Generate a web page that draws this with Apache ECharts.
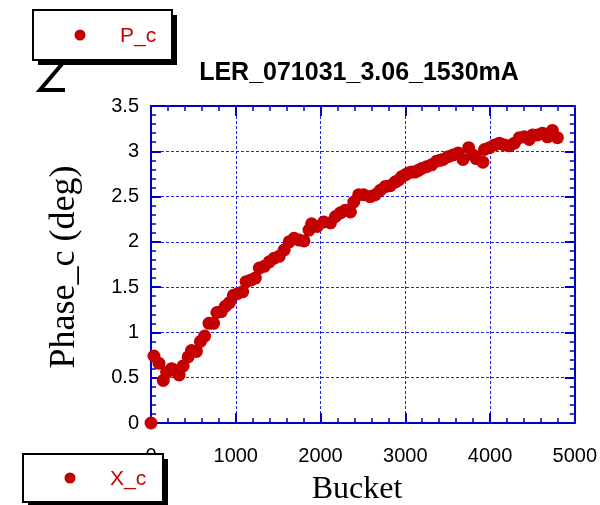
<!DOCTYPE html>
<html>
<head>
<meta charset="utf-8">
<script src="https://cdn.jsdelivr.net/npm/echarts@6/dist/echarts.min.js"></script>
<style>
  html, body { margin: 0; padding: 0; background: #ffffff; }
  #chart { width: 600px; height: 505px; }
</style>
</head>
<body>
<div id="chart"></div>
<script>
// Phase of the bunch (deg) along the train, LER run 071031
const chartTitle = 'LER_071031_3.06_1530mA';
const xName = 'Bucket';
const yName = 'Phase_c (deg)';
const seriesNames = ['P_c', 'X_c'];

const buckets = [
  0, 35, 94, 145, 184, 243, 281, 332, 379, 438, 477, 536, 583, 633, 684, 738,
  778, 829, 879, 926, 973, 1023, 1082, 1122, 1180, 1231, 1278, 1336, 1395, 1454,
  1512, 1571, 1630, 1688, 1747, 1805, 1864, 1895, 1961, 2040, 2118, 2177, 2235,
  2294, 2353, 2392, 2450, 2509, 2587, 2646, 2705, 2763, 2822, 2880, 2920, 2958,
  3000, 3036, 3075, 3115, 3155, 3193, 3251, 3310, 3368, 3410, 3447, 3505, 3564,
  3623, 3681, 3748, 3798, 3837, 3916, 3935, 3994, 4053, 4111, 4170, 4229, 4287,
  4346, 4404, 4463, 4502, 4560, 4619, 4677, 4736, 4795
];
const phaseC = [
  0, 0.74, 0.66, 0.47, 0.56, 0.60, 0.58, 0.53, 0.63, 0.73, 0.80, 0.79, 0.90, 0.96, 1.10, 1.10,
  1.22, 1.23, 1.29, 1.33, 1.41, 1.43, 1.45, 1.56, 1.58, 1.60, 1.71, 1.73, 1.78, 1.82,
  1.84, 1.91, 2.00, 2.04, 2.02, 2.01, 2.13, 2.20, 2.17, 2.22, 2.21, 2.28, 2.32,
  2.35, 2.33, 2.44, 2.52, 2.52, 2.50, 2.52, 2.57, 2.61, 2.62, 2.66, 2.68, 2.72,
  2.74, 2.76, 2.77, 2.77, 2.79, 2.81, 2.83, 2.85, 2.89, 2.90, 2.91, 2.94, 2.96,
  2.98, 2.91, 3.04, 2.96, 2.92, 2.88, 3.02, 3.04, 3.07, 3.09, 3.07, 3.06, 3.09,
  3.15, 3.16, 3.13, 3.18, 3.18, 3.20, 3.16, 3.23, 3.15
];

const AXIS_BLUE = '#0000cc';
const GRID_BLUE = '#2222ee';
const MARK_RED = '#c40000';
const LABEL_FONT = 'Liberation Sans, Arial, sans-serif';

const pointData = buckets.map((b, i) => [b, phaseC[i]]);

function baseAxis(pos, labelOpts, opts) {
  const showLabels = !!labelOpts;
  return Object.assign({
    type: 'value',
    position: pos,
    axisLine: { show: true, onZero: false, lineStyle: { color: AXIS_BLUE, width: 2 } },
    axisTick: { show: true, inside: true, length: 10, lineStyle: { color: AXIS_BLUE, width: 2 } },
    minorTick: { show: true, splitNumber: 5, length: 5, lineStyle: { color: AXIS_BLUE, width: 1.5 } },
    splitLine: { show: showLabels, lineStyle: { color: GRID_BLUE, width: 1, type: [3, 2] } },
    axisLabel: showLabels
      ? Object.assign({ show: true, color: '#000', fontSize: 20, fontFamily: LABEL_FONT, formatter: (v) => String(v) }, labelOpts)
      : { show: false }
  }, opts);
}

const xScale = { min: 0, max: 5000, interval: 1000 };
const yScale = { min: 0, max: 3.5, interval: 0.5 };

// Boxed legend entry: white box, thick black drop shadow on right/bottom, marker and label
function legendBox(x, y, w, h, label, dotX, textX) {
  return [
    {
      type: 'rect', z: 101,
      shape: { x: x, y: y, width: w, height: h },
      style: { fill: '#fff', stroke: '#000', lineWidth: 2 }
    },
    {
      type: 'polyline', z: 102,
      shape: { points: [[x + 5, y + h + 3], [x + w + 3, y + h + 3], [x + w + 3, y + 5]] },
      style: { stroke: '#000', lineWidth: 4, fill: null, lineJoin: 'miter' }
    },
    { type: 'circle', z: 102, shape: { cx: dotX, cy: y + h / 2, r: 5.5 }, style: { fill: MARK_RED } },
    {
      type: 'text', x: textX, y: y + h / 2 + 1, z: 102,
      style: {
        text: label, fill: MARK_RED, font: '21px "Liberation Sans", Arial, sans-serif',
        textAlign: 'left', textVerticalAlign: 'middle'
      }
    }
  ];
}

const chart = echarts.init(document.getElementById('chart'), null, { renderer: 'canvas' });
chart.setOption({
  backgroundColor: '#ffffff',
  animation: false,
  grid: { left: 151, right: 23, top: 106, bottom: 82, containLabel: false },
  xAxis: [
    baseAxis('bottom', { margin: 23 }, xScale),
    baseAxis('top', null, xScale)
  ],
  yAxis: [
    baseAxis('left', { margin: 12 }, yScale),
    baseAxis('right', null, yScale)
  ],
  series: [
    {
      name: seriesNames[0],
      type: 'scatter',
      xAxisIndex: 0,
      yAxisIndex: 0,
      symbol: 'circle',
      symbolSize: 13,
      clip: false,
      itemStyle: { color: MARK_RED, opacity: 1 },
      data: pointData,
      z: 5
    }
  ],
  graphic: {
    elements: [
      {
        type: 'text', x: 359, y: 73, z: 50,
        style: {
          text: chartTitle, fill: '#000', font: 'bold 25px "Liberation Sans", Arial, sans-serif',
          textAlign: 'center', textVerticalAlign: 'middle'
        }
      },
      {
        type: 'text', x: 357, y: 490, z: 50,
        style: {
          text: xName, fill: '#000', font: '32px "Liberation Serif", "Times New Roman", serif',
          textAlign: 'center', textVerticalAlign: 'middle'
        }
      },
      {
        type: 'text', x: 65, y: 267, rotation: Math.PI / 2, z: 50,
        style: {
          text: yName, fill: '#000', font: '36px "Liberation Serif", "Times New Roman", serif',
          textAlign: 'center', textVerticalAlign: 'middle'
        }
      },
      ...legendBox(33, 10, 139, 50, seriesNames[0], 80, 120),
      {
        type: 'polyline', z: 100,
        shape: { points: [[62, 64], [40, 90], [65, 90]] },
        style: { stroke: '#000', lineWidth: 4, fill: null, lineJoin: 'miter' }
      },
      ...legendBox(23, 454, 140, 48, seriesNames[1], 70, 110)
    ]
  }
});
</script>
</body>
</html>
